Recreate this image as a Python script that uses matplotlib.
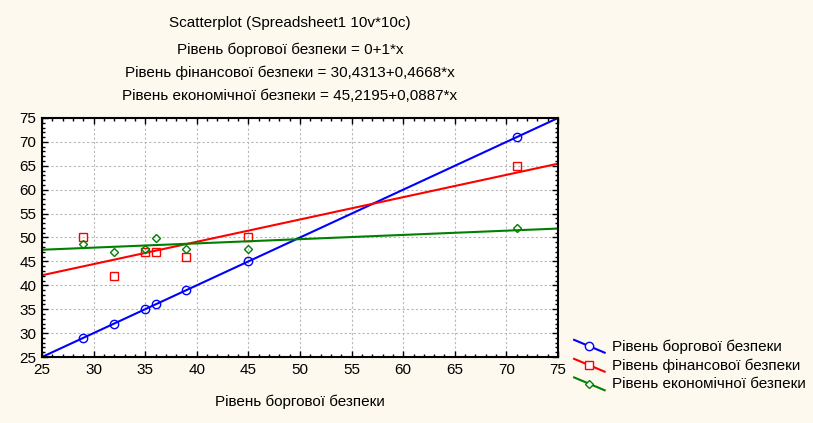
import numpy as np
import matplotlib.pyplot as plt
from matplotlib.lines import Line2D
from matplotlib.legend_handler import HandlerBase
from matplotlib.ticker import MultipleLocator

plt.rcParams["font.family"] = ["Liberation Sans", "DejaVu Sans"]

# data
x_vals = [29, 32, 35, 36, 39, 45, 71]
borg = [29, 32, 35, 36, 39, 45, 71]
fin = [50, 42, 47, 47, 46, 50, 65]
econ = [48.7, 46.9, 47.6, 49.8, 47.6, 47.6, 51.9]

names = ["Рівень боргової безпеки", "Рівень фінансової безпеки",
         "Рівень економічної безпеки"]
intercepts = [0.0, 30.4313, 45.2195]
slopes = [1.0, 0.4668, 0.0887]
eq_labels = ["0+1*x", "30,4313+0,4668*x", "45,2195+0,0887*x"]

title = "Scatterplot (Spreadsheet1 10v*10c)"
xlabel = "Рівень боргової безпеки"


class DiagonalHandler(HandlerBase):
    """Legend key drawn as a falling diagonal line with the marker in the middle."""

    def create_artists(self, legend, orig, xdescent, ydescent, width, height,
                       fontsize, trans):
        y0, y1 = height * 1.0, -height * 0.2
        line = Line2D([0, width], [y0, y1], color=orig.get_color(),
                      linewidth=orig.get_linewidth(), transform=trans)
        mark = Line2D([width / 2], [(y0 + y1) / 2], linestyle="none",
                      marker=orig.get_marker(), markersize=orig.get_markersize(),
                      markerfacecolor="white",
                      markeredgecolor=orig.get_markeredgecolor(),
                      markeredgewidth=1, transform=trans)
        return [line, mark]


W, H = 813, 423
fig = plt.figure(figsize=(W / 100, H / 100), dpi=100, facecolor="#fdf9ee")
ax = fig.add_axes([42 / W, 1 - 357 / H, (558 - 42) / W, (357 - 118) / H])
ax.set_facecolor("white")

colors = ["#0000ff", "#ff0000", "#008000"]
markers = ["o", "s", "D"]
msizes = [6, 6, 4.5]
series = [borg, fin, econ]

xs = np.array([25, 75])
handles = []
for ys, c, m, ms, a, b, name in zip(series, colors, markers, msizes,
                                    intercepts, slopes, names):
    ax.plot(x_vals, ys, linestyle="none", marker=m, markersize=ms,
            markerfacecolor="none", markeredgecolor=c, markeredgewidth=1)
    ax.plot(xs, a + b * xs, color=c, linewidth=1.5)
    h, = ax.plot([], [], color=c, marker=m, markersize=ms,
                 markeredgecolor=c, linewidth=1.5, label=name)
    handles.append(h)

ax.set_xlim(25, 75)
ax.set_ylim(25, 75)
ax.xaxis.set_major_locator(MultipleLocator(5))
ax.yaxis.set_major_locator(MultipleLocator(5))
ax.xaxis.set_minor_locator(MultipleLocator(1))
ax.yaxis.set_minor_locator(MultipleLocator(1))
ax.grid(True, which="major", color="#b8b8b8", linestyle=(0, (2, 2)), linewidth=0.8)
ax.tick_params(which="both", direction="in", top=True, right=True,
               labelsize=11, pad=4)
ax.tick_params(which="major", length=4, width=1)
ax.tick_params(which="minor", length=2, width=1)
for s in ax.spines.values():
    s.set_linewidth(1.5)

ax.set_xlabel(xlabel, fontsize=11, labelpad=13)

cx = 290 / W
fig.text(cx, 1 - 23 / H, title, ha="center", va="center", fontsize=11)
for i, (name, eq) in enumerate(zip(names, eq_labels)):
    fig.text(cx, 1 - (50 + 23 * i) / H, f"{name} = {eq}", ha="center",
             va="center", fontsize=11)

fig.legend(handles=handles, loc="upper left",
           bbox_to_anchor=(568 / W, 1 - 333 / H),
           handler_map={Line2D: DiagonalHandler()},
           frameon=False, fontsize=11, handlelength=2.0,
           handletextpad=0.5, labelspacing=0.3, borderaxespad=0)

fig.savefig("out.png", dpi=100, facecolor=fig.get_facecolor())
